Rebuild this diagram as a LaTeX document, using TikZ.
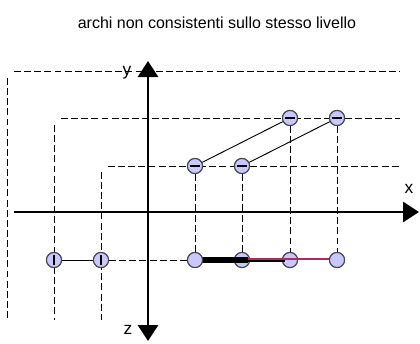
\documentclass[tikz,border=0pt]{standalone}
\usepackage{fontspec}
\setmainfont{Liberation Sans}
\usetikzlibrary{arrows.meta}
\definecolor{beadfill}{RGB}{200,200,250}
\definecolor{beadline}{RGB}{70,70,80}
\definecolor{arcred}{RGB}{165,45,95}
\tikzset{
    bead/.style={circle, draw=beadline, fill=beadfill, line width=0.8pt, minimum size=11.3pt, inner sep=0pt},
    beadh/.style={bead, path picture={\draw[line width=0.85pt, black] ([xshift=-3.8pt]path picture bounding box.center) -- ([xshift=3.8pt]path picture bounding box.center);}},
    beadv/.style={bead, path picture={\draw[line width=0.85pt, black] ([yshift=-3.8pt]path picture bounding box.center) -- ([yshift=3.8pt]path picture bounding box.center);}},
    guide/.style={line width=0.75pt, dash pattern=on 5.2pt off 2.4pt},
    axis/.style={line width=2.2pt, -{Triangle[length=12pt, width=15pt]}},
    arc/.style={line width=0.7pt},
    axlabel/.style={font=\fontsize{13}{15}\selectfont}
}
\begin{document}
\begin{tikzpicture}[x=0.75pt, y=-0.75pt, every node/.style={font=\small}]
  \useasboundingbox (0,0) rectangle (420,343);
  \node (title) at (217,23) {\fontsize{12}{14}\selectfont archi non consistenti sullo stesso livello};

  % beads
  \node[beadh] (a1) at (290,118) {};
  \node[beadh] (a2) at (337,118) {};
  \node[beadh] (b1) at (195,166) {};
  \node[beadh] (b2) at (242,166) {};
  \node[bead]  (c1) at (195,260) {};
  \node[bead]  (c2) at (242,260) {};
  \node[bead]  (c3) at (290,260) {};
  \node[bead]  (c4) at (337,260) {};
  \node[beadv] (d1) at (54,260)  {};
  \node[beadv] (d2) at (101,260) {};

  % guide ends
  \coordinate (h1w) at (14,71);  \coordinate (h1e) at (400,71);
  \coordinate (h2w) at (61,118); \coordinate (h2e) at (400,118);
  \coordinate (h3w) at (108,166);\coordinate (h3e) at (400,166);
  \coordinate (v1n) at (7,78);   \coordinate (v1s) at (7,320);
  \coordinate (v2n) at (54,125); \coordinate (v2s) at (54,320);
  \coordinate (v3n) at (101,172);\coordinate (v3s) at (101,320);

  \draw[guide] (h1w) -- (h1e);
  \draw[guide] (h2w) -- (h2e);
  \draw[guide] (h3w) -- (h3e);
  \draw[guide] (v1n) -- (v1s);
  \draw[guide] (v2n) -- (v2s);
  \draw[guide] (v3n) -- (v3s);
  \draw[guide] (b1) -- (c1);
  \draw[guide] (b2) -- (c2);
  \draw[guide] (a1) -- (c3);
  \draw[guide] (a2) -- (c4);
  \draw[guide] (d2) -- (c1);

  % axes
  \coordinate (xw) at (14,212);  \coordinate (xe) at (419,212);
  \coordinate (yn) at (148,61);  \coordinate (zs) at (148,341);
  \coordinate (o)  at (148,212);
  \draw[axis] (xw) -- (xe);
  \draw[axis] (o) -- (yn);
  \draw[axis] (o) -- (zs);
  \node[axlabel] (xl) at (409,189) {x};
  \node[axlabel] (yl) at (127,73)  {y};
  \node[axlabel] (zl) at (128,330) {z};

  % beads under the bottom arcs
  \foreach \n in {c2, c3}
    \node[bead] at (\n) {};

  % arcs
  \draw[arc] (b1) -- (a1);
  \draw[arc] (b2) -- (a2);
  \draw[arc] (d1) -- (d2);
  \draw[line width=4.2pt] (c1.center) -- ([xshift=4.5pt]c2.center);
  \draw[line width=3pt] ([xshift=4.5pt]c2.center) -- ([xshift=-3.7pt]c3.center);
  \draw[line width=1.6pt, arcred] ([xshift=4.5pt, yshift=0.7pt]c2.center) -- ([yshift=0.7pt]c4.center);

  % beads on top
  \foreach \n/\s in {a1/beadh, a2/beadh, b1/beadh, b2/beadh, c1/bead, c4/bead, d1/beadv, d2/beadv}
    \node[\s] at (\n) {};
\end{tikzpicture}
\end{document}
